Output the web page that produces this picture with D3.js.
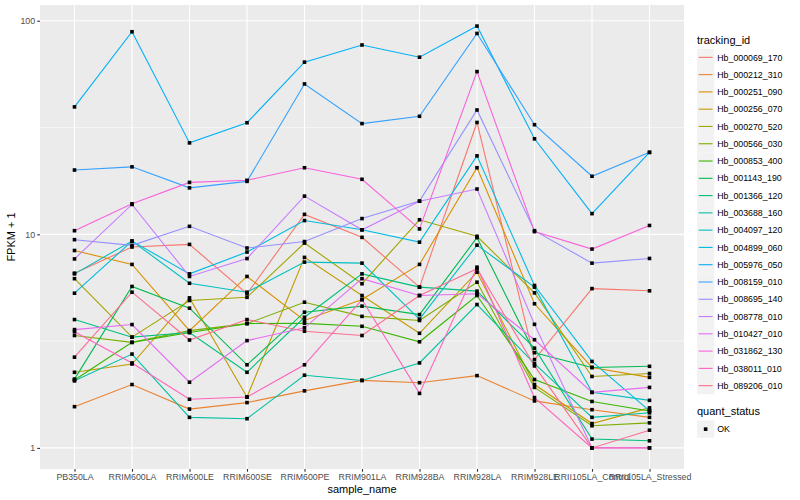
<!DOCTYPE html>
<html>
<head>
<meta charset="utf-8">
<script src="https://cdn.jsdelivr.net/npm/d3@7"></script>
<style>
body { margin: 0; background: #fff; }
text { font-family: "Liberation Sans", Arial, sans-serif; }
</style>
</head>
<body>
<div id="chart"></div>
<script>
var samples = ["PB350LA", "RRIM600LA", "RRIM600LE", "RRIM600SE", "RRIM600PE", "RRIM901LA",
               "RRIM928BA", "RRIM928LA", "RRIM928LE", "RRII105LA_Control", "RRII105LA_Stressed"]

var tracking_ids = ["Hb_000069_170", "Hb_000212_310", "Hb_000251_090", "Hb_000256_070", "Hb_000270_520",
                    "Hb_000566_030", "Hb_000853_400", "Hb_001143_190", "Hb_001366_120", "Hb_003688_160",
                    "Hb_004097_120", "Hb_004899_060", "Hb_005976_050", "Hb_008159_010", "Hb_008695_140",
                    "Hb_008778_010", "Hb_010427_010", "Hb_031862_130", "Hb_038011_010", "Hb_089206_010"]

// FPKM + 1, one row per tracking_id, one value per sample
var fpkm = [
    [6.58, 8.72, 8.97, 5.27, 12.4, 9.68, 5.66, 33.4, 2.59, 5.57, 5.44],
    [1.56, 1.98, 1.52, 1.63, 1.85, 2.07, 2.02, 2.18, 1.66, 1.51, 1.39],
    [8.4, 7.23, 3.54, 6.35, 3.95, 4.95, 7.23, 20.5, 4.73, 2.38, 2.14],
    [2.26, 2.47, 5.04, 1.73, 7.8, 5.17, 3.44, 6.65, 1.98, 1.30, 1.54],
    [6.2, 3.3, 4.9, 5.07, 9.1, 5.87, 11.7, 9.79, 5.32, 2.16, 2.23],
    [3.36, 3.12, 3.54, 3.82, 4.81, 4.13, 3.95, 5.97, 1.92, 1.27, 1.31],
    [2.08, 3.12, 3.47, 3.82, 3.83, 3.71, 3.14, 5.17, 2.09, 1.65, 1.49],
    [2.1, 5.7, 4.51, 2.45, 4.32, 4.61, 4.21, 9.65, 2.79, 2.38, 2.41],
    [3.99, 3.3, 3.47, 2.26, 4.09, 6.53, 5.66, 5.42, 2.93, 1.10, 1.08],
    [2.06, 2.75, 1.39, 1.37, 2.19, 2.07, 2.50, 4.69, 2.48, 1.39, 1.46],
    [6.53, 9.3, 5.9, 5.36, 7.41, 7.33, 4.01, 8.9, 5.66, 1.82, 1.67],
    [5.3, 9.3, 6.53, 8.26, 11.6, 10.5, 9.19, 23.3, 5.76, 2.54, 1.49],
    [39.5, 88.8, 26.8, 33.3, 64, 77, 67.5, 94.4, 28, 12.5, 24.2],
    [20, 20.7, 16.5, 17.7, 50.6, 33, 35.7, 87.2, 32.6, 18.7, 24.2],
    [9.44, 8.88, 10.9, 8.63, 9.25, 11.85, 14.3, 38.2, 10.4, 7.33, 7.71],
    [7.67, 13.8, 6.35, 7.7, 15.1, 10.5, 14.3, 16.3, 3.79, 1.0, 1.0],
    [3.58, 3.78, 2.03, 3.18, 3.65, 6.2, 5.17, 5.27, 3.21, 1.82, 1.92],
    [10.4, 13.9, 17.5, 17.9, 20.5, 18.1, 10.6, 57.8, 10.3, 8.53, 11.0],
    [3.5, 2.5, 1.69, 1.73, 2.45, 4.95, 1.80, 7.02, 1.72, 1.0, 1.0],
    [2.66, 5.36, 3.2, 3.99, 3.52, 3.36, 5.17, 6.9, 2.42, 1.0, 1.21]
]

var quant_status = ["OK"]
var y_ticks = [1, 10, 100]

// ggplot default hue palette for 20 levels
var palette = ["#F8766D", "#EA8331", "#D89000", "#C09B00", "#A3A500", "#7CAE00", "#39B600", "#00BB4E",
               "#00BF7D", "#00C1A3", "#00BFC4", "#00BAE0", "#00B0F6", "#35A2FF", "#9590FF", "#C77CFF",
               "#E76BF3", "#FA62DB", "#FF62BC", "#FF6C91"]

const WIDTH = 800, HEIGHT = 500
const PANEL = { LEFT: 40, RIGHT: 684, TOP: 5, BOTTOM: 469 }

const svg = d3.select("#chart")
    .append("svg")
    .attr("width", WIDTH)
    .attr("height", HEIGHT)

var series = tracking_ids.map((id, i) => ({
    id: id,
    values: samples.map((s, j) => ({ sample: s, value: fpkm[i][j] }))
}))

var color = d3.scaleOrdinal().domain(tracking_ids).range(palette)

var xScale = d3.scalePoint()
    .domain(samples)
    .range([PANEL.LEFT, PANEL.RIGHT])
    .padding(0.6)

// log10 scale, expanded 5% on each side like ggplot
var allVals = d3.merge(fpkm)
var lo = Math.log10(d3.min(allVals)), hi = Math.log10(d3.max(allVals))
var pad = (hi - lo) * 0.05
var yScale = d3.scaleLog()
    .domain([Math.pow(10, lo - pad), Math.pow(10, hi + pad)])
    .range([PANEL.BOTTOM, PANEL.TOP])

// panel
svg.append("rect")
    .attr("x", PANEL.LEFT).attr("y", PANEL.TOP)
    .attr("width", PANEL.RIGHT - PANEL.LEFT)
    .attr("height", PANEL.BOTTOM - PANEL.TOP)
    .attr("fill", "#EBEBEB")

var minor = [Math.pow(10, 0.5), Math.pow(10, 1.5)]
svg.append("g").selectAll("line")
    .data(minor)
    .enter().append("line")
    .attr("x1", PANEL.LEFT).attr("x2", PANEL.RIGHT)
    .attr("y1", d => yScale(d)).attr("y2", d => yScale(d))
    .attr("stroke", "#fff").attr("stroke-width", 0.55)

svg.append("g").selectAll("line")
    .data(y_ticks)
    .enter().append("line")
    .attr("x1", PANEL.LEFT).attr("x2", PANEL.RIGHT)
    .attr("y1", d => yScale(d)).attr("y2", d => yScale(d))
    .attr("stroke", "#fff").attr("stroke-width", 1.1)

svg.append("g").selectAll("line")
    .data(samples)
    .enter().append("line")
    .attr("x1", d => xScale(d)).attr("x2", d => xScale(d))
    .attr("y1", PANEL.TOP).attr("y2", PANEL.BOTTOM)
    .attr("stroke", "#fff").attr("stroke-width", 1.1)

// axes
var xAxis = svg.append("g")
    .attr("transform", "translate(0," + PANEL.BOTTOM + ")")
    .call(d3.axisBottom(xScale).tickSize(2.75).tickPadding(2.2).tickSizeOuter(0))
var yAxis = svg.append("g")
    .attr("transform", "translate(" + PANEL.LEFT + ",0)")
    .call(d3.axisLeft(yScale).tickValues(y_ticks).tickFormat(d3.format("d"))
          .tickSize(2.75).tickPadding(2.2).tickSizeOuter(0))

;[xAxis, yAxis].forEach(a => {
    a.select(".domain").remove()
    a.selectAll(".tick line").attr("stroke", "#333333").attr("stroke-width", 1.1)
    a.selectAll(".tick text")
        .attr("fill", "#4D4D4D")
        .style("font-size", "8.8px")
        .style("font-family", "Liberation Sans, Arial, sans-serif")
})

svg.append("text")
    .attr("x", (PANEL.LEFT + PANEL.RIGHT) / 2)
    .attr("y", 493)
    .attr("text-anchor", "middle")
    .style("font-size", "11px")
    .text("sample_name")

svg.append("text")
    .attr("transform", "translate(15," + (PANEL.TOP + PANEL.BOTTOM) / 2 + ") rotate(-90)")
    .attr("text-anchor", "middle")
    .style("font-size", "11px")
    .text("FPKM + 1")

// lines
var line = d3.line()
    .x(d => xScale(d.sample))
    .y(d => yScale(d.value))

svg.append("g").selectAll("path")
    .data(series)
    .enter().append("path")
    .attr("d", d => line(d.values))
    .attr("fill", "none")
    .attr("stroke", d => color(d.id))
    .attr("stroke-width", 1.1)

// points
var square = d3.symbol().type(d3.symbolSquare).size(13)
var pointsG = svg.append("g")
series.forEach(s => {
    pointsG.selectAll(null)
        .data(s.values)
        .enter().append("path")
        .attr("d", square)
        .attr("transform", d => "translate(" + xScale(d.sample) + "," + yScale(d.value) + ")")
        .attr("fill", "#000")
})

// legend: tracking_id
const LEG_X = 697, KEY = 17.28
var legG = svg.append("g")
legG.append("text")
    .attr("x", LEG_X).attr("y", 44)
    .style("font-size", "11px")
    .text("tracking_id")

var items = legG.selectAll("g.item")
    .data(tracking_ids)
    .enter().append("g")
    .attr("class", "item")
    .attr("transform", (d, i) => "translate(" + LEG_X + "," + (48.7 + i * KEY) + ")")
items.append("rect")
    .attr("width", KEY).attr("height", KEY)
    .attr("fill", "#F2F2F2")
items.append("line")
    .attr("x1", 1.7).attr("x2", KEY - 1.7)
    .attr("y1", KEY / 2).attr("y2", KEY / 2)
    .attr("stroke", d => color(d))
    .attr("stroke-width", 1.1)
items.append("text")
    .attr("x", KEY + 3)
    .attr("y", KEY / 2 + 3.2)
    .style("font-size", "8.8px")
    .text(d => d)

// legend: quant_status
legG.append("text")
    .attr("x", LEG_X).attr("y", 415)
    .style("font-size", "11px")
    .text("quant_status")

var q = legG.selectAll("g.q")
    .data(quant_status)
    .enter().append("g")
    .attr("class", "q")
    .attr("transform", (d, i) => "translate(" + LEG_X + "," + (420.5 + i * KEY) + ")")
q.append("rect")
    .attr("width", KEY).attr("height", KEY)
    .attr("fill", "#F2F2F2")
q.append("path")
    .attr("d", square)
    .attr("transform", "translate(" + KEY / 2 + "," + KEY / 2 + ")")
    .attr("fill", "#000")
q.append("text")
    .attr("x", KEY + 3)
    .attr("y", KEY / 2 + 3.2)
    .style("font-size", "8.8px")
    .text(d => d)
</script>
</body>
</html>
